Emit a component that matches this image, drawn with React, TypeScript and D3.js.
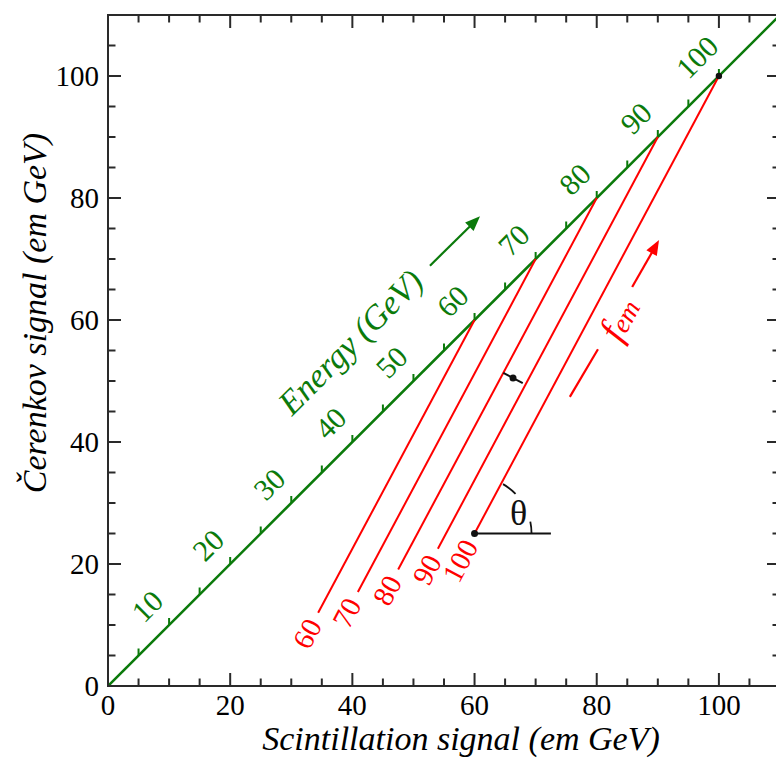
import React from "react";
import * as d3 from "d3";

const W = 776;
const H = 765;

// axis values
const majorTicks = [0, 20, 40, 60, 80, 100];
const minorTicks = [0, 5, 10, 15, 20, 25, 30, 35, 40, 45, 50, 55, 60, 65, 70, 75, 80, 85, 90, 95, 100, 105, 110];

// energy scale along the diagonal
const energyTicks = [5, 10, 15, 20, 25, 30, 35, 40, 45, 50, 55, 60, 65, 70, 75, 80, 85, 90, 95, 100];
const energyLabels = [10, 20, 30, 40, 50, 60, 70, 80, 90, 100];

// red constant-energy lines: start on diagonal at (E,E), end at (endS, endC)
const lineEnergies = [60, 70, 80, 90, 100];
const endS = [34.4, 40.9, 47.5, 54, 60];
const endC = [12, 15.4, 19.1, 22.5, 25];

// annotations (data coords)
const thetaOrigin = [60, 25];
const thetaRefEnd = 72.5;
const midDot = [66.3, 50.5];
const greenArrow = [[52.7, 68.9], [60.9, 77.0]];
const redArrow = [[85.8, 65.4], [90.2, 73.1]];
const redDash = [[75.6, 47.4], [80.2, 55.2]];
const energyTitlePos = [39.7, 56.4];
const femPos = [83.6, 60.2];

const GREEN = "#0b7a0b";
const RED = "#ff0000";
const AX = "#2a2a2a";
const FF = "Liberation Serif";

export default function App() {
  const x = d3.scaleLinear().domain([0, 110]).range([108, 780]);
  const y = d3.scaleLinear().domain([0, 110]).range([686, 15]);
  const x0 = x(0), x1 = x(110), y0 = y(0), y1 = y(110);

  const lineGen = d3.line<number[]>().x((d) => x(d[0])).y((d) => y(d[1]));

  const arrowHead = (p: number[][], color: string) => {
    const ax = x(p[0][0]), ay = y(p[0][1]);
    const bx = x(p[1][0]), by = y(p[1][1]);
    const ang = Math.atan2(by - ay, bx - ax);
    const L = 15, Wd = 6;
    const bxs = bx - L * Math.cos(ang), bys = by - L * Math.sin(ang);
    const pts = [
      [bx, by],
      [bxs + Wd * Math.sin(ang), bys - Wd * Math.cos(ang)],
      [bxs - Wd * Math.sin(ang), bys + Wd * Math.cos(ang)],
    ];
    return (
      <g>
        <line x1={ax} y1={ay} x2={bxs + 2 * Math.cos(ang)} y2={bys + 2 * Math.sin(ang)} stroke={color} strokeWidth={2.2} />
        <polygon points={pts.map((q) => q.join(",")).join(" ")} fill={color} />
      </g>
    );
  };

  const dxp = x(100) - x(endS[4]);
  const dyp = y(100) - y(endC[4]);
  const redAng = (Math.atan2(dyp, dxp) * 180) / Math.PI;
  const ux = Math.cos((redAng * Math.PI) / 180), uy = Math.sin((redAng * Math.PI) / 180);

  const cx = x(thetaOrigin[0]), cy = y(thetaOrigin[1]);
  const R = 57;
  const arcPath = (a0: number, a1: number) => {
    const p0 = [cx + R * Math.cos((-a0 * Math.PI) / 180), cy + R * Math.sin((-a0 * Math.PI) / 180)];
    const p1 = [cx + R * Math.cos((-a1 * Math.PI) / 180), cy + R * Math.sin((-a1 * Math.PI) / 180)];
    return `M${p0[0]},${p0[1]} A${R},${R} 0 0 1 ${p1[0]},${p1[1]}`;
  };

  const mdx = x(midDot[0]), mdy = y(midDot[1]);
  const px = -uy, py = ux;
  const half = 11;

  return (
    <svg width={W} height={H} style={{ position: "absolute", left: 0, top: 0, background: "#fff" }}>
      <defs>
        <clipPath id="plotclip">
          <rect x={x0} y={y1} width={x1 - x0} height={y0 - y1} />
        </clipPath>
      </defs>

      <g clipPath="url(#plotclip)">
        <path d={lineGen([[0, 0], [110, 110]]) || ""} stroke={GREEN} strokeWidth={2.6} fill="none" />
        {energyTicks.map((e) => (
          <line key={"et" + e} x1={x(e)} x2={x(e)} y1={y(e)} y2={y(e) - 7} stroke={GREEN} strokeWidth={2} />
        ))}
      </g>
      {energyLabels.map((e) => (
        <text
          key={"el" + e}
          x={x(e) - 22}
          y={y(e) - 19}
          fill={GREEN}
          fontSize={30}
          fontFamily={FF}
          textAnchor="middle"
          dominantBaseline="central"
          transform={`rotate(-45 ${x(e) - 22} ${y(e) - 19})`}
        >
          {e}
        </text>
      ))}

      {lineEnergies.map((e, i) => {
        const ex = x(endS[i]), ey = y(endC[i]);
        const lx = ex - ux * 9, ly = ey - uy * 9;
        return (
          <g key={"rl" + e}>
            <line x1={x(e)} y1={y(e)} x2={ex} y2={ey} stroke={RED} strokeWidth={2} />
            <text
              x={lx}
              y={ly}
              fill={RED}
              fontSize={29}
              fontFamily={FF}
              textAnchor="end"
              dominantBaseline="central"
              transform={`rotate(${redAng} ${lx} ${ly})`}
            >
              {e}
            </text>
          </g>
        );
      })}

      <circle cx={x(100)} cy={y(100)} r={3.2} fill="#111" />
      <line x1={mdx - px * half} y1={mdy - py * half} x2={mdx + px * half} y2={mdy + py * half} stroke="#111" strokeWidth={2} />
      <circle cx={mdx} cy={mdy} r={3.5} fill="#111" />

      <line x1={cx} y1={cy} x2={x(thetaRefEnd)} y2={cy} stroke="#111" strokeWidth={2} />
      <circle cx={cx} cy={cy} r={3.5} fill="#111" />
      <path d={arcPath(60, 44)} stroke="#111" strokeWidth={1.8} fill="none" />
      <path d={arcPath(12, 0)} stroke="#111" strokeWidth={1.8} fill="none" />
      <text x={cx + 44} y={cy - 21} fontSize={36} fontFamily={FF} textAnchor="middle" dominantBaseline="central" fill="#111">
        θ
      </text>

      {arrowHead(greenArrow, GREEN)}
      {arrowHead(redArrow, RED)}
      <path d={lineGen(redDash) || ""} stroke={RED} strokeWidth={2.2} fill="none" />

      <text
        x={x(energyTitlePos[0])}
        y={y(energyTitlePos[1])}
        fill={GREEN}
        fontSize={34}
        fontFamily={FF}
        fontStyle="italic"
        textAnchor="middle"
        dominantBaseline="central"
        transform={`rotate(-45 ${x(energyTitlePos[0])} ${y(energyTitlePos[1])})`}
      >
        Energy (GeV)
      </text>
      <text
        x={x(femPos[0])}
        y={y(femPos[1])}
        fill={RED}
        fontSize={38}
        fontFamily={FF}
        fontStyle="italic"
        textAnchor="middle"
        dominantBaseline="central"
        transform={`rotate(${redAng} ${x(femPos[0])} ${y(femPos[1])})`}
      >
        f<tspan fontSize={27} dy={5}>em</tspan>
      </text>

      <rect x={x0} y={y1} width={x1 - x0} height={y0 - y1} fill="none" stroke={AX} strokeWidth={2} />
      {minorTicks.map((t) => {
        const len = majorTicks.includes(t) ? 13 : 7.5;
        return (
          <g key={"mt" + t} stroke={AX} strokeWidth={2}>
            <line x1={x(t)} x2={x(t)} y1={y0} y2={y0 - len} />
            <line x1={x(t)} x2={x(t)} y1={y1} y2={y1 + len} />
            <line x1={x0} x2={x0 + len} y1={y(t)} y2={y(t)} />
            <line x1={x1} x2={x1 - len} y1={y(t)} y2={y(t)} />
          </g>
        );
      })}
      {majorTicks.map((t) => (
        <text key={"xl" + t} x={x(t)} y={715} fontSize={29} fontFamily={FF} textAnchor="middle" fill="#000">
          {t}
        </text>
      ))}
      {majorTicks.map((t) => (
        <text key={"yl" + t} x={99} y={y(t)} fontSize={29} fontFamily={FF} textAnchor="end" dominantBaseline="central" fill="#000">
          {t}
        </text>
      ))}

      <text x={461} y={750} fontSize={34} fontFamily={FF} fontStyle="italic" textAnchor="middle" fill="#000">
        Scintillation signal (em GeV)
      </text>
      <text
        x={46}
        y={313}
        fontSize={34}
        fontFamily={FF}
        fontStyle="italic"
        textAnchor="middle"
        fill="#000"
        transform={`rotate(-90 46 313)`}
      >
        Čerenkov signal (em GeV)
      </text>
    </svg>
  );
}
